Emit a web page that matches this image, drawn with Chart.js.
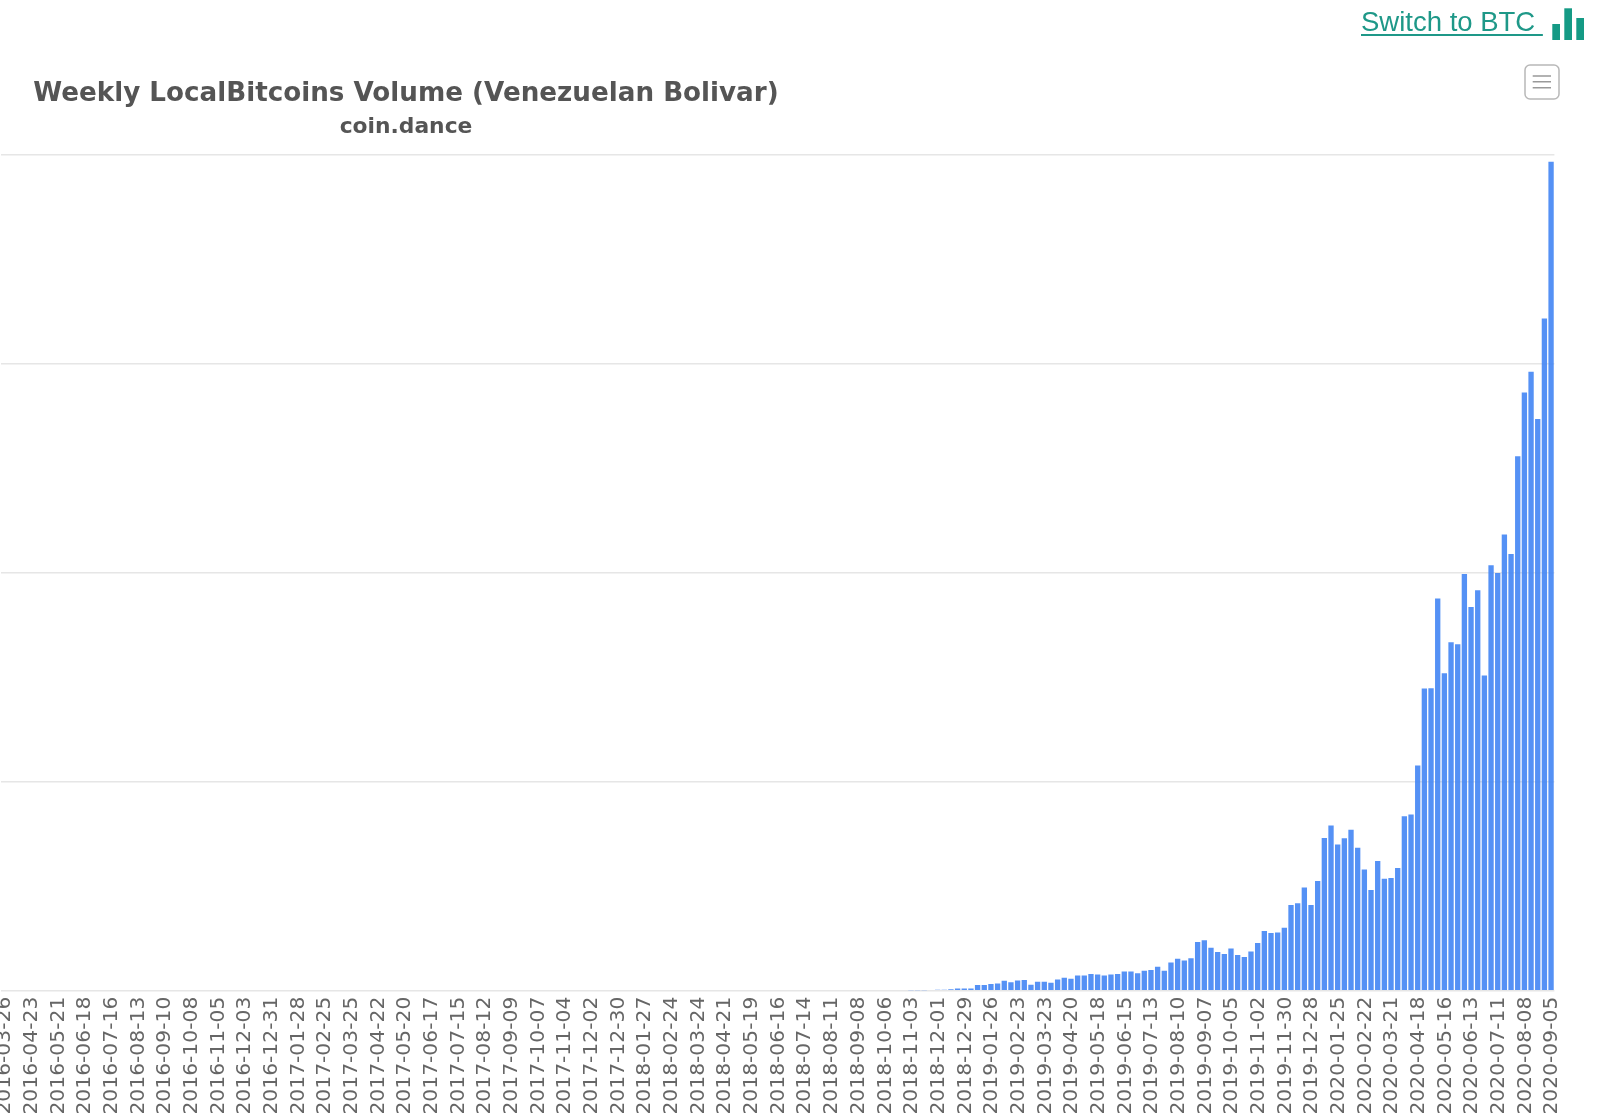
<!DOCTYPE html>
<html>
<head>
<meta charset="utf-8">
<title>Weekly LocalBitcoins Volume (Venezuelan Bolivar)</title>
<script src="https://cdn.jsdelivr.net/npm/chart.js@4"></script>
<style>
    html, body { margin: 0; padding: 0; background: #fff; overflow: hidden; }
    #wrap { position: relative; width: 1604px; height: 1118px; overflow: hidden; }
    #chart { position: absolute; left: 0; top: 0; }
    .head { position: absolute; left: 0; width: 812px; text-align: center; white-space: nowrap;
            font-family: "DejaVu Sans", sans-serif; font-weight: bold; color: #555; }
    #title { top: 76px; font-size: 26.2px; line-height: 32px; }
    #subtitle { top: 113px; font-size: 21.8px; line-height: 26px; }
    #switch { position: absolute; left: 1361px; top: 5px; font-family: "Liberation Sans", sans-serif;
              font-size: 27.5px; line-height: 34px; color: #1e9888; white-space: pre;
              text-decoration: underline; text-decoration-thickness: 1.5px; text-underline-offset: 3px; }
    svg { position: absolute; left: 0; top: 0; }
</style>
</head>
<body>
<div id="wrap">
    <canvas id="chart" width="1604" height="1118"></canvas>
    <div class="head" id="title">Weekly LocalBitcoins Volume (Venezuelan Bolivar)</div>
    <div class="head" id="subtitle">coin.dance</div>
    <a id="switch">Switch to BTC </a>
    <svg width="1604" height="110">
        <!-- bar icon next to the link -->
        <rect x="1552.3" y="24" width="7.7" height="16" fill="#159a85"/>
        <rect x="1564.3" y="8.3" width="7.7" height="31.7" fill="#159a85"/>
        <rect x="1576.3" y="18" width="7.7" height="22" fill="#159a85"/>
        <!-- menu button -->
        <rect x="1525" y="65" width="34" height="34" rx="5" fill="#fff" stroke="#b8b8b8" stroke-width="1.5"/>
        <path d="M1532.7 76H1551M1532.7 81.8H1551M1532.7 87.7H1551" stroke="#999" stroke-width="1.5"/>
    </svg>
</div>
<script>
// week labels, one per bar
const weeks = [
    '2016-03-26','2016-04-02','2016-04-09','2016-04-16','2016-04-23','2016-04-30','2016-05-07','2016-05-14',
    '2016-05-21','2016-05-28','2016-06-04','2016-06-11','2016-06-18','2016-06-25','2016-07-02','2016-07-09',
    '2016-07-16','2016-07-23','2016-07-30','2016-08-06','2016-08-13','2016-08-20','2016-08-27','2016-09-03',
    '2016-09-10','2016-09-17','2016-09-24','2016-10-01','2016-10-08','2016-10-15','2016-10-22','2016-10-29',
    '2016-11-05','2016-11-12','2016-11-19','2016-11-26','2016-12-03','2016-12-10','2016-12-17','2016-12-24',
    '2016-12-31','2017-01-07','2017-01-14','2017-01-21','2017-01-28','2017-02-04','2017-02-11','2017-02-18',
    '2017-02-25','2017-03-04','2017-03-11','2017-03-18','2017-03-25','2017-04-01','2017-04-08','2017-04-15',
    '2017-04-22','2017-04-29','2017-05-06','2017-05-13','2017-05-20','2017-05-27','2017-06-03','2017-06-10',
    '2017-06-17','2017-06-24','2017-07-01','2017-07-08','2017-07-15','2017-07-22','2017-07-29','2017-08-05',
    '2017-08-12','2017-08-19','2017-08-26','2017-09-02','2017-09-09','2017-09-16','2017-09-23','2017-09-30',
    '2017-10-07','2017-10-14','2017-10-21','2017-10-28','2017-11-04','2017-11-11','2017-11-18','2017-11-25',
    '2017-12-02','2017-12-09','2017-12-16','2017-12-23','2017-12-30','2018-01-06','2018-01-13','2018-01-20',
    '2018-01-27','2018-02-03','2018-02-10','2018-02-17','2018-02-24','2018-03-03','2018-03-10','2018-03-17',
    '2018-03-24','2018-03-31','2018-04-07','2018-04-14','2018-04-21','2018-04-28','2018-05-05','2018-05-12',
    '2018-05-19','2018-05-26','2018-06-02','2018-06-09','2018-06-16','2018-06-23','2018-06-30','2018-07-07',
    '2018-07-14','2018-07-21','2018-07-28','2018-08-04','2018-08-11','2018-08-18','2018-08-25','2018-09-01',
    '2018-09-08','2018-09-15','2018-09-22','2018-09-29','2018-10-06','2018-10-13','2018-10-20','2018-10-27',
    '2018-11-03','2018-11-10','2018-11-17','2018-11-24','2018-12-01','2018-12-08','2018-12-15','2018-12-22',
    '2018-12-29','2019-01-05','2019-01-12','2019-01-19','2019-01-26','2019-02-02','2019-02-09','2019-02-16',
    '2019-02-23','2019-03-02','2019-03-09','2019-03-16','2019-03-23','2019-03-30','2019-04-06','2019-04-13',
    '2019-04-20','2019-04-27','2019-05-04','2019-05-11','2019-05-18','2019-05-25','2019-06-01','2019-06-08',
    '2019-06-15','2019-06-22','2019-06-29','2019-07-06','2019-07-13','2019-07-20','2019-07-27','2019-08-03',
    '2019-08-10','2019-08-17','2019-08-24','2019-08-31','2019-09-07','2019-09-14','2019-09-21','2019-09-28',
    '2019-10-05','2019-10-12','2019-10-19','2019-10-26','2019-11-02','2019-11-09','2019-11-16','2019-11-23',
    '2019-11-30','2019-12-07','2019-12-14','2019-12-21','2019-12-28','2020-01-04','2020-01-11','2020-01-18',
    '2020-01-25','2020-02-01','2020-02-08','2020-02-15','2020-02-22','2020-02-29','2020-03-07','2020-03-14',
    '2020-03-21','2020-03-28','2020-04-04','2020-04-11','2020-04-18','2020-04-25','2020-05-02','2020-05-09',
    '2020-05-16','2020-05-23','2020-05-30','2020-06-06','2020-06-13','2020-06-20','2020-06-27','2020-07-04',
    '2020-07-11','2020-07-18','2020-07-25','2020-08-01','2020-08-08','2020-08-15','2020-08-22','2020-08-29',
    '2020-09-05'
];

// labels actually printed on the axis
const tickLabels = [
    '2016-03-26','2016-04-23','2016-05-21','2016-06-18','2016-07-16','2016-08-13','2016-09-10','2016-10-08',
    '2016-11-05','2016-12-03','2016-12-31','2017-01-28','2017-02-25','2017-03-25','2017-04-22','2017-05-20',
    '2017-06-17','2017-07-15','2017-08-12','2017-09-09','2017-10-07','2017-11-04','2017-12-02','2017-12-30',
    '2018-01-27','2018-02-24','2018-03-24','2018-04-21','2018-05-19','2018-06-16','2018-07-14','2018-08-11',
    '2018-09-08','2018-10-06','2018-11-03','2018-12-01','2018-12-29','2019-01-26','2019-02-23','2019-03-23',
    '2019-04-20','2019-05-18','2019-06-15','2019-07-13','2019-08-10','2019-09-07','2019-10-05','2019-11-02',
    '2019-11-30','2019-12-28','2020-01-25','2020-02-22','2020-03-21','2020-04-18','2020-05-16','2020-06-13',
    '2020-07-11','2020-08-08','2020-09-05'
];

// in hundredths of a gridline step (the y axis text is cut off in the original)
const volume = [
    0, 0, 0, 0, 0, 0, 0, 0, 0, 0,
    0, 0, 0, 0, 0, 0, 0, 0, 0, 0,
    0, 0, 0, 0, 0, 0, 0, 0, 0, 0,
    0, 0, 0, 0, 0, 0, 0, 0, 0, 0,
    0, 0, 0, 0, 0, 0, 0, 0, 0, 0,
    0, 0, 0, 0, 0, 0, 0, 0, 0, 0,
    0, 0, 0, 0, 0, 0, 0, 0, 0, 0,
    0, 0, 0, 0, 0, 0, 0, 0, 0, 0,
    0, 0, 0, 0, 0, 0, 0, 0, 0, 0,
    0, 0, 0, 0, 0, 0, 0, 0, 0, 0,
    0, 0, 0, 0, 0, 0, 0, 0, 0, 0,
    0, 0, 0, 0, 0, 0, 0, 0, 0, 0,
    0, 0, 0, 0, 0, 0, 0, 0, 0, 0,
    0, 0, 0, 0, 0, 0, 0.2, 0.2, 0.25, 0.3,
    0.4, 0.5, 0.7, 1, 1, 1, 2.7, 2.7, 3.2, 3.5,
    4.8, 4, 4.9, 5.1, 2.9, 4.3, 4.3, 3.8, 5.4, 6.2,
    5.7, 7.3, 7.3, 8, 7.8, 7.3, 7.8, 8, 9.2, 9.2,
    8.3, 9.6, 9.9, 11.5, 9.6, 13.5, 15.3, 14.4, 15.5, 23.3,
    24.1, 20.6, 18.5, 17.6, 20.2, 17.1, 16.1, 18.7, 22.8, 28.6,
    27.6, 27.9, 30.1, 41, 41.8, 49.4, 41, 52.5, 73.1, 79.1,
    69.9, 72.9, 77, 68.4, 58, 48.2, 62.1, 53.6, 53.9, 58.7,
    83.5, 84.3, 107.8, 144.6, 144.7, 187.7, 151.9, 166.7, 165.8, 199.4,
    183.6, 191.6, 150.8, 203.6, 199.8, 218.3, 208.9, 255.7, 286.2, 296.1,
    273.6, 321.6, 396.6
];

new Chart(document.getElementById('chart').getContext('2d'), {
    type: 'bar',
    data: {
        labels: weeks,
        datasets: [{
            label: 'Volume',
            data: volume,
            backgroundColor: 'rgba(66,133,244,0.9)',
            borderWidth: 0,
            barPercentage: 0.8,
            categoryPercentage: 1
        }]
    },
    options: {
        responsive: false,
        devicePixelRatio: 1,
        animation: false,
        layout: { autoPadding: false, padding: { left: 0.7, right: 49.6, top: 154.7, bottom: 0 } },
        plugins: {
            legend: { display: false },
            tooltip: { enabled: false }
        },
        scales: {
            x: {
                border: { display: false },
                grid: { display: false },
                ticks: {
                    autoSkip: false,
                    minRotation: 90,
                    maxRotation: 90,
                    padding: -2,
                    labelOffset: 1,
                    color: '#666',
                    font: { family: '"DejaVu Sans"', size: 20.3 },
                    callback: function (value) {
                        const label = this.getLabelForValue(value);
                        return tickLabels.includes(label) ? label : '';
                    }
                },
                afterFit: (scale) => { scale.height = 127.3; }
            },
            y: {
                min: 0,
                max: 400,
                border: { display: false },
                grid: { color: '#e6e6e6', lineWidth: 1.5, drawTicks: false },
                ticks: { display: false, stepSize: 100 },
                afterFit: (scale) => { scale.width = 0; }
            }
        }
    }
});
</script>
</body>
</html>
